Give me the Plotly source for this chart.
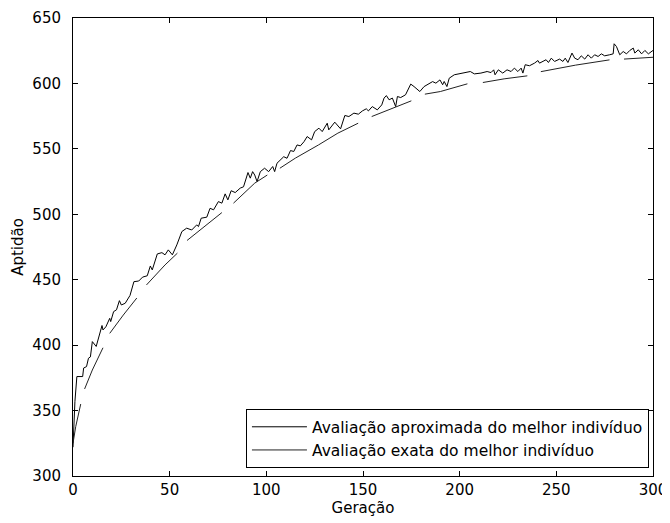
import plotly.graph_objects as go

# Approximate evaluation of best individual (generation, fitness)
approx_gen = [0, 1, 2, 5, 5.5, 7, 8, 9, 10, 12, 15, 15.5, 17, 19, 19.5, 21, 22.5, 24, 25, 27,
              29.5, 31.5, 34, 36, 38.4, 40, 41, 43.6, 46, 47.6, 49.3, 51.4, 53.7, 56.3, 58.8,
              61.4, 64, 64.9, 66.3, 69.2, 70.9, 72.7, 75.2, 77, 78.7, 80.1, 81.8, 83.9, 86.5,
              88.2, 90.5, 91.7, 92.9, 94, 95.2, 96.9, 99.1, 101.2, 103.3, 104.3, 105.5, 107.3,
              109, 110.7, 112.5, 114.2, 115.9, 117.6, 119.5, 121.1, 123.4, 125, 127.2, 128.9,
              131.5, 132.3, 135.4, 138.4, 140.6, 142.7, 145.3, 147.6, 149.7, 151.7, 152.8,
              154.8, 157.4, 159.7, 160.9, 162.1, 163.5, 165.2, 166.9, 167.8, 169.5, 172, 174.7,
              176.4, 179.4, 181.6, 184.2, 186, 187.7, 189.8, 191.2, 192, 193.4, 194.6, 197.2,
              199.8, 202.4, 205.5, 207.6, 211, 214.2, 216.2, 217.6, 218.3, 220, 222.3, 224.5,
              226.6, 228.3, 230.1, 231.8, 232.7, 233.9, 236.1, 238.7, 240.5, 241.3, 243, 244.7,
              245.9, 247.4, 249.1, 251.7, 253.4, 254.6, 256, 258.1, 259.5, 261.2, 262.9, 264.7,
              266.4, 268.1, 269.8, 271.6, 273.3, 275, 277.6, 279.4, 279.9, 281.1, 282.8, 284.6,
              286.3, 288, 289.8, 290.6, 292.4, 294.1, 295.8, 297.6, 300]
approx_val = [322, 357, 376, 376, 382.5, 383.6, 390, 391, 402.7, 399, 415, 411.6, 414, 420.5, 418,
              425.6, 427, 434, 430.7, 432, 438, 448.5, 449, 452, 453, 460.5, 457.5, 469.7, 470.7,
              469, 472.8, 469, 476.6, 486.8, 489.4, 488, 491.9, 490.6, 497, 497.8, 504.6, 503.4,
              509.7, 508.5, 515.6, 511, 518, 516.6, 520, 521, 531.9, 527.6, 532.6, 530, 525,
              532.6, 535.2, 532.6, 536.5, 532.6, 539, 542, 544, 542.8, 548.7, 548, 553, 552.3,
              555.5, 559.4, 556.9, 563.2, 565.8, 563.2, 569.6, 564.5, 570.4, 565.3, 575.5, 574.7,
              577.3, 576.5, 579, 580.6, 579, 582.3, 579.8, 583.6, 588.8, 590.7, 587.5, 588.8,
              582.3, 590, 589.2, 591.3, 599.5, 597.6, 593.8, 597.6, 600.2, 601.4, 600.2, 602.7,
              599, 601.5, 597.6, 604, 606.6, 607.3, 607.9, 609.1, 607.3, 607.9, 609.1, 608.3,
              610.4, 606.6, 610.4, 607.9, 610.4, 609.1, 611.7, 609.1, 611.7, 607.9, 614.3, 613.5,
              615.5, 617.5, 615.5, 616.8, 618.1, 616, 619.3, 616.8, 618.6, 616.8, 619.3, 616,
              623.2, 619.3, 618.1, 621.1, 618.6, 621.9, 619.3, 621.9, 620.6, 622.6, 621.1, 621.9,
              622.6, 630.3, 628.2, 621.9, 624.4, 622.6, 625.2, 627, 623.2, 625.7, 622.6, 625.2,
              622.6, 625.2]

# Exact evaluation of best individual: separate segments (None = gap)
exact_gen = [0, 1.4, 4, None,
             6, 10, 15.5, None,
             19, 26, 33, None,
             38, 47.6, 54, None,
             59, 68, 77, None,
             83, 94, 100.5, None,
             107, 115, 127, 137, 147.5, None,
             154.5, 165, 175, None,
             182, 190, 204, None,
             212, 223, 235, None,
             242, 260, 277.5, None,
             285, 292, 300]
exact_val = [325, 337.7, 355, None,
             366.5, 381, 398, None,
             409, 423, 436, None,
             446, 461.3, 470.3, None,
             480, 491, 501.3, None,
             508.5, 523.8, 530, None,
             535.2, 542.9, 553, 562, 569.6, None,
             574.7, 581, 586.7, None,
             591.8, 593.8, 599.7, None,
             600.7, 603.5, 605.8, None,
             609, 614, 618, None,
             618.6, 619.3, 620]

x_ticks = [0, 50, 100, 150, 200, 250, 300]
y_ticks = [300, 350, 400, 450, 500, 550, 600, 650]

font_family = "DejaVu Sans, Arial, sans-serif"
fsize = 15

fig = go.Figure()
fig.add_trace(go.Scatter(x=approx_gen, y=approx_val, mode="lines",
                         line=dict(color="black", width=1),
                         name="Avaliação aproximada do melhor indivíduo"))
fig.add_trace(go.Scatter(x=exact_gen, y=exact_val, mode="lines", connectgaps=False,
                         line=dict(color="#222222", width=1),
                         name="Avaliação exata do melhor indivíduo"))

axis_common = dict(showline=True, linecolor="black", linewidth=1, mirror="ticks",
                   ticks="inside", ticklen=5, tickcolor="black", showgrid=False,
                   zeroline=False, automargin=False,
                   tickfont=dict(size=fsize, color="black", family=font_family))

fig.update_xaxes(range=[0, 300], tickvals=x_ticks, ticklabelstandoff=0,
                 title=dict(text="Geração", standoff=3,
                            font=dict(size=fsize, color="black", family=font_family)),
                 **axis_common)
fig.update_yaxes(range=[300, 650], tickvals=y_ticks, ticklabelstandoff=8,
                 title=dict(text="Aptidão", standoff=5,
                            font=dict(size=fsize, color="black", family=font_family)),
                 **axis_common)

# page body has an 8px margin: figure is 662x515 so it fills the 670x523 window
fig.update_layout(
    width=662, height=515,
    margin=dict(l=65, r=17, t=10, b=47, autoexpand=False),
    paper_bgcolor="white", plot_bgcolor="white",
    font=dict(family=font_family, size=fsize, color="black"),
    legend=dict(x=0.993, y=0.017, xanchor="right", yanchor="bottom",
                bordercolor="black", borderwidth=1, bgcolor="white",
                font=dict(size=15.5, color="black", family=font_family),
                itemwidth=55, tracegroupgap=0),
    showlegend=True,
)

fig.write_html("out.html")
